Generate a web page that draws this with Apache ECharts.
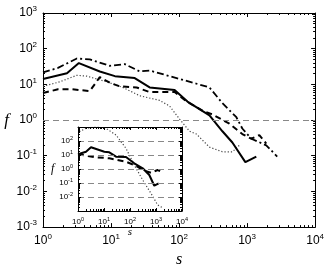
<!DOCTYPE html>
<html><head><meta charset="utf-8">
<script src="https://cdn.jsdelivr.net/npm/echarts@6/dist/echarts.min.js"></script>
<style>html,body{margin:0;padding:0;background:#fff}#c{width:327px;height:273px}</style>
</head><body><div id="c"></div>
<script>
// ---- main panel data ----
const solidS = [1, 2.25, 3.37, 6.84, 11.4, 22.3, 37, 86, 133, 280, 434, 608, 943, 1367];
const solidF = [14.2, 20.4, 39.5, 23, 17, 15, 8.2, 6.9, 3.3, 1.35, 0.485, 0.235, 0.066, 0.095];
const dashS = [1, 1.66, 2.66, 4.88, 6.84, 9.6, 13.4, 23.8, 37, 86, 129, 221, 310, 550, 851, 1153, 1513, 1914];
const dashF = [5.7, 7.3, 7.3, 6.5, 16, 11.1, 8.8, 8.2, 6.1, 6.1, 3.3, 1.83, 1.44, 0.79, 0.405, 0.3, 0.38, 0.22];
const dashDotS = [1, 1.66, 3.15, 4.88, 9.6, 15.9, 26.4, 37, 92, 280, 434, 696, 851, 1153, 1914, 2774];
const dashDotF = [21.6, 29, 53, 50, 33, 37, 23, 24.4, 15, 8.2, 2.96, 1.2, 0.58, 0.3, 0.196, 0.095];
const dotS = [1, 1.77, 3.15, 4.41, 8.67, 14.9, 26.4, 51.8, 72.6, 102, 143, 180, 280, 434, 608, 770];
const dotF = [8.8, 11.8, 18, 17, 11.8, 8.2, 4.8, 3.55, 2.47, 1.06, 0.485, 0.405, 0.174, 0.129, 0.129, 0.196];
const refLine = [1];
// ---- inset data ----
const inSolidS = [1, 2.03, 3.16, 10.3, 16, 29, 70, 146, 308, 552, 860, 1270];
const inSolidF = [11.2, 17.2, 35.5, 17.2, 15.6, 7.6, 7.2, 2.55, 1.12, 0.37, 0.064, 0.095];
const inDashS = [1, 2.03, 4.9, 16, 70, 170, 308, 642, 1162, 1910];
const inDashF = [11.2, 8.9, 6.9, 5.8, 3.3, 1.72, 0.85, 0.54, 0.85, 0.54];
const inDotS = [1.12, 2.03, 4.9, 11.9, 29, 70, 146, 308, 642, 1162, 1910];
const inDotF = [462, 807, 1000, 807, 268, 30, 1.93, 0.164, 0.018, 0.0027, 0.0016];
// ---- axis ranges / labels ----
const mainX = [1, 10000];
const mainY = [0.001, 1000];
const insetX = [1, 10000];
const insetY = [0.001, 1000];
const xName = 's', yName = 'f';

const zip = (a, b) => a.map((v, i) => [v, b[i]]);
const pw = (p) => (v) => { const n = Math.round(Math.log10(v)); return '{' + p + 'b|10}{' + p + 'e|' + n + '}'; };
const richMain = {
  mb: {fontSize: 12, fontFamily: 'Liberation Sans', color: '#000'},
  me: {fontSize: 8, fontFamily: 'Liberation Sans', color: '#000', padding: [0, 0, 8, 0]}
};
const richIn = {
  ib: {fontSize: 8, fontFamily: 'Liberation Sans', color: '#000'},
  ie: {fontSize: 5.5, fontFamily: 'Liberation Sans', color: '#000', padding: [0, 0, 5, 0]}
};
function mkAxis(o) {
  return Object.assign({
    type: 'log', logBase: 10,
    axisLine: {show: true, onZero: false, lineStyle: {color: '#000', width: 1}},
    axisTick: {show: true, inside: true, length: 4, lineStyle: {color: '#000'}},
    minorTick: {show: true, splitNumber: 9, length: 2, lineStyle: {color: '#000'}},
    splitLine: {show: false}
  }, o);
}
const serif = {fontFamily: 'Liberation Serif', fontStyle: 'italic', color: '#000'};
const dotStyle = {color: '#444', width: 1.2, type: [1.2, 2]};

const option = {
  animation: false,
  backgroundColor: '#fff',
  grid: [
    {left: 43, right: 11, top: 13, bottom: 31},
    {left: 78, top: 127, width: 104, height: 84, show: true, backgroundColor: '#fff', borderWidth: 0, z: 10}
  ],
  xAxis: [
    mkAxis({gridIndex: 0, min: mainX[0], max: mainX[1], position: 'bottom',
      axisLabel: {formatter: pw('m'), rich: richMain, margin: 6},
      name: xName, nameLocation: 'middle', nameGap: 20, nameTextStyle: Object.assign({fontSize: 16}, serif)}),
    mkAxis({gridIndex: 0, min: mainX[0], max: mainX[1], position: 'top', axisLabel: {show: false}}),
    mkAxis({gridIndex: 1, min: insetX[0], max: insetX[1], position: 'bottom', z: 12,
      axisTick: {show: true, inside: true, length: 3, lineStyle: {color: '#000'}},
      axisLabel: {formatter: pw('i'), rich: richIn, margin: 5},
      name: xName, nameLocation: 'middle', nameGap: 14, nameTextStyle: Object.assign({fontSize: 11}, serif)}),
    mkAxis({gridIndex: 1, min: insetX[0], max: insetX[1], position: 'top', z: 12,
      axisTick: {show: true, inside: true, length: 3, lineStyle: {color: '#000'}},
      axisLabel: {show: false}})
  ],
  yAxis: [
    mkAxis({gridIndex: 0, min: mainY[0], max: mainY[1], position: 'left',
      axisLabel: {formatter: pw('m'), rich: richMain, margin: 6},
      name: yName, nameLocation: 'middle', nameRotate: 0, nameGap: 34, nameTextStyle: Object.assign({fontSize: 17}, serif)}),
    mkAxis({gridIndex: 0, min: mainY[0], max: mainY[1], position: 'right', axisLabel: {show: false}}),
    mkAxis({gridIndex: 1, min: insetY[0], max: insetY[1], position: 'left', z: 12,
      axisTick: {show: true, inside: true, length: 3, lineStyle: {color: '#000'}},
      axisLabel: {formatter: pw('i'), rich: richIn, margin: 5, showMinLabel: false, showMaxLabel: false},
      splitLine: {show: true, lineStyle: {color: '#888', type: [6, 4], width: 1}},
      name: yName, nameLocation: 'middle', nameRotate: 0, nameGap: 23, nameTextStyle: Object.assign({fontSize: 12}, serif)}),
    mkAxis({gridIndex: 1, min: insetY[0], max: insetY[1], position: 'right', z: 12,
      axisTick: {show: true, inside: true, length: 3, lineStyle: {color: '#000'}},
      axisLabel: {show: false}})
  ],
  series: [
    {type: 'line', xAxisIndex: 0, yAxisIndex: 0, data: zip(dotS, dotF), showSymbol: false, z: 2,
      lineStyle: dotStyle,
      markLine: {silent: true, symbol: 'none', label: {show: false},
        lineStyle: {color: '#888', type: [6, 4], width: 1}, data: refLine.map(v => ({yAxis: v}))}},
    {type: 'line', xAxisIndex: 0, yAxisIndex: 0, data: zip(dashS, dashF), showSymbol: false, z: 2,
      lineStyle: {color: '#000', width: 2, type: [6, 4]}},
    {type: 'line', xAxisIndex: 0, yAxisIndex: 0, data: zip(dashDotS, dashDotF), showSymbol: false, z: 2,
      lineStyle: {color: '#000', width: 1.8, type: [7, 3, 2, 3]}},
    {type: 'line', xAxisIndex: 0, yAxisIndex: 0, data: zip(solidS, solidF), showSymbol: false, z: 2,
      lineStyle: {color: '#000', width: 2}},
    {type: 'line', xAxisIndex: 2, yAxisIndex: 2, data: zip(inDotS, inDotF), showSymbol: false, z: 11,
      lineStyle: dotStyle},
    {type: 'line', xAxisIndex: 2, yAxisIndex: 2, data: zip(inDashS, inDashF), showSymbol: false, z: 11,
      lineStyle: {color: '#000', width: 2, type: [6, 4]}},
    {type: 'line', xAxisIndex: 2, yAxisIndex: 2, data: zip(inSolidS, inSolidF), showSymbol: false, z: 11,
      lineStyle: {color: '#000', width: 2}}
  ]
};
const chart = echarts.init(document.getElementById('c'), null, {renderer: 'canvas'});
chart.setOption(option);
</script></body></html>
